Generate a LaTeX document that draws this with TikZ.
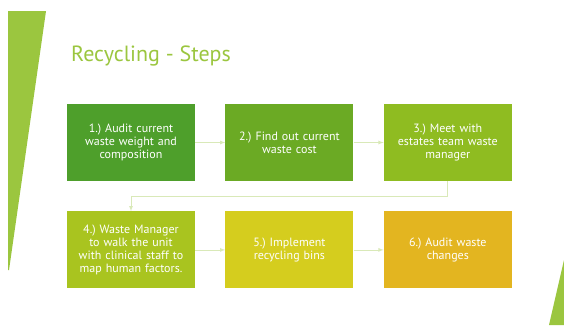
\documentclass[tikz,border=0pt]{standalone}
\usepackage{fontspec}
\setmainfont{PT Sans}
\usetikzlibrary{positioning}

\definecolor{slidegreen}{HTML}{9BC63F}
\definecolor{stepone}{HTML}{4E9F2B}
\definecolor{steptwo}{HTML}{6BAA24}
\definecolor{stepthree}{HTML}{8FBC21}
\definecolor{stepfour}{HTML}{A9C41F}
\definecolor{stepfive}{HTML}{D5CD1E}
\definecolor{stepsix}{HTML}{E3B520}
\definecolor{linkgreen}{HTML}{D9E9B8}

\tikzset{
    stepbox/.style={minimum width=128pt, minimum height=77pt, inner sep=2pt,
        text=white, align=center, font=\fontsize{12}{12.8}\selectfont, text width=124pt},
    link/.style={draw=linkgreen, line width=0.8pt, -latex}
}

\frenchspacing
\begin{document}
\begin{tikzpicture}[x=1pt, y=-1pt]
                    \useasboundingbox (0,0) rectangle (564,325);
                    \fill[white] (0,0) rectangle (564,325);
                    \fill[slidegreen] (8,11) -- (46,11) -- (9,270) -- (8,270) -- cycle;
                    \fill[slidegreen] (564,260) -- (549,325) -- (564,325) -- cycle;

                    \node[anchor=base west, inner sep=0pt, text=slidegreen, font=\fontsize{22}{26}\selectfont] (title) at (71,61) {Recycling - Steps};

                    \node[stepbox, fill=stepone] (s1) at (131,142.5) {1.) Audit current\\ waste weight and\\ composition};
                    \node[stepbox, fill=steptwo, right=30pt of s1] (s2) {2.) Find out current\\ waste cost};
                    \node[stepbox, fill=stepthree, right=30pt of s2] (s3) {3.) Meet with\\ estates team waste\\ manager};
                    \node[stepbox, fill=stepfour, below=30pt of s1] (s4) {4.) Waste Manager\\ to walk the unit\\ with clinical staff to\\ map human factors.};
                    \node[stepbox, fill=stepfive, right=30pt of s4] (s5) {5.) Implement\\ recycling bins};
                    \node[stepbox, fill=stepsix, right=30pt of s5] (s6) {6.) Audit waste\\ changes};

                    \draw[link] (s1) -- (s2);
                    \draw[link] (s2) -- (s3);
                    \draw[link] (s3.south) -- ++(0,15) -| (s4.north);
                    \draw[link] (s4) -- (s5);
                    \draw[link] (s5) -- (s6);
                    %arrows%
                \end{tikzpicture}
\end{document}
